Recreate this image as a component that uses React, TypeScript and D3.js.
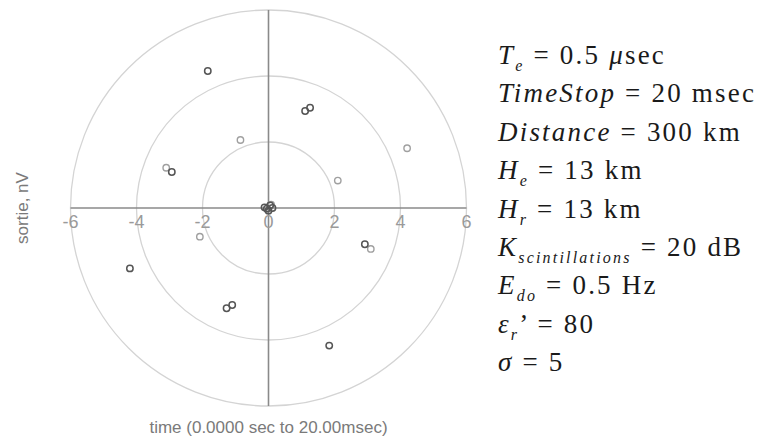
import React from "react";
import * as d3 from "d3";

// Polar scatter of the received signal (real vs imaginary part)
const ringValues = [2, 4, 6];
const tickValues = [-6, -4, -2, 0, 2, 4, 6];

const darkX = [-1.84, 1.11, 1.26, -2.93, -4.2, 2.92, -1.27, -1.1, 1.84, -0.12, 0.05, 0.12, 0.0, -0.05];
const darkY = [4.15, 2.94, 3.04, 1.09, -1.83, -1.1, -3.04, -2.94, -4.17, 0.02, 0.08, 0.0, -0.08, -0.02];

const lightX = [-0.85, 4.2, 2.1, -2.08, 3.1, -3.1, 0.08];
const lightY = [2.06, 1.81, 0.83, -0.87, -1.24, 1.22, 0.1];

const xTitle = "time (0.0000 sec to 20.00msec)";
const yTitle = "sortie, nV";

type Seg = { t: string; i?: boolean; sub?: boolean };
const paramLines: Seg[][] = [
  [{ t: "T", i: true }, { t: "e", i: true, sub: true }, { t: " = 0.5 " }, { t: "μ", i: true }, { t: "sec" }],
  [{ t: "TimeStop", i: true }, { t: " = 20 msec" }],
  [{ t: "Distance", i: true }, { t: " = 300 km" }],
  [{ t: "H", i: true }, { t: "e", i: true, sub: true }, { t: " = 13 km" }],
  [{ t: "H", i: true }, { t: "r", i: true, sub: true }, { t: " = 13 km" }],
  [{ t: "K", i: true }, { t: "scintillations", i: true, sub: true }, { t: " = 20 dB" }],
  [{ t: "E", i: true }, { t: "do", i: true, sub: true }, { t: " = 0.5 Hz" }],
  [{ t: "ε", i: true }, { t: "r", i: true, sub: true }, { t: "’ = 80" }],
  [{ t: "σ", i: true }, { t: " = 5" }],
];

export default function App() {
  const cx = 268.5;
  const cy = 208;
  const R = 198;
  const x = d3.scaleLinear().domain([-6, 6]).range([cx - R, cx + R]);
  const y = d3.scaleLinear().domain([-6, 6]).range([cy + R, cy - R]);
  const rPx = (v: number) => x(v) - x(0);

  const sans = "'Liberation Sans', Arial, sans-serif";
  const serif = "'Liberation Serif', 'Times New Roman', serif";

  return (
    <svg
      width={758}
      height={445}
      style={{ position: "absolute", left: 0, top: 0, background: "#fff" }}
    >
      <rect width={758} height={445} fill="#fff" />
      {ringValues.map((v) => (
        <circle key={v} cx={x(0)} cy={y(0)} r={rPx(v)} fill="none" stroke="#d4d4d4" strokeWidth={1.3} />
      ))}
      <line x1={x(-6)} x2={x(6)} y1={y(0)} y2={y(0)} stroke="#8a8a8a" strokeWidth={1.6} />
      <line x1={x(0)} x2={x(0)} y1={y(6)} y2={y(-6)} stroke="#8a8a8a" strokeWidth={1.6} />
      {tickValues.map((v) => (
        <text
          key={v}
          x={x(v)}
          y={y(0) + 20}
          textAnchor="middle"
          fontFamily={sans}
          fontSize={18}
          fill="#9a9a9a"
        >
          {v < 0 ? `-${Math.abs(v)}` : `${v}`}
        </text>
      ))}
      {lightX.map((v, i) => (
        <circle key={"l" + i} cx={x(v)} cy={y(lightY[i])} r={3.2} fill="none" stroke="#a0a0a0" strokeWidth={1.4} />
      ))}
      {darkX.map((v, i) => (
        <circle key={"d" + i} cx={x(v)} cy={y(darkY[i])} r={3.2} fill="none" stroke="#555" strokeWidth={1.5} />
      ))}
      <text
        x={x(0)}
        y={433}
        textAnchor="middle"
        fontFamily={sans}
        fontSize={17}
        fill="#7a7a7a"
      >
        {xTitle}
      </text>
      <text
        transform={`translate(28, ${cy}) rotate(-90)`}
        textAnchor="middle"
        fontFamily={sans}
        fontSize={17}
        fill="#7a7a7a"
      >
        {yTitle}
      </text>
      {paramLines.map((segs, li) => (
        <text
          key={li}
          x={498}
          y={64 + li * 38.4}
          fontFamily={serif}
          fontSize={27}
          fill="#1a1a1a"
          letterSpacing={2.2}
        >
          {segs.map((s, si) => {
            const prevSub = si > 0 && segs[si - 1].sub;
            const dy = s.sub ? 7 : prevSub ? -7 : 0;
            return (
              <tspan
                key={si}
                dy={dy}
                fontStyle={s.i ? "italic" : "normal"}
                fontSize={s.sub ? 16 : 27}
              >
                {s.t}
              </tspan>
            );
          })}
        </text>
      ))}
    </svg>
  );
}
